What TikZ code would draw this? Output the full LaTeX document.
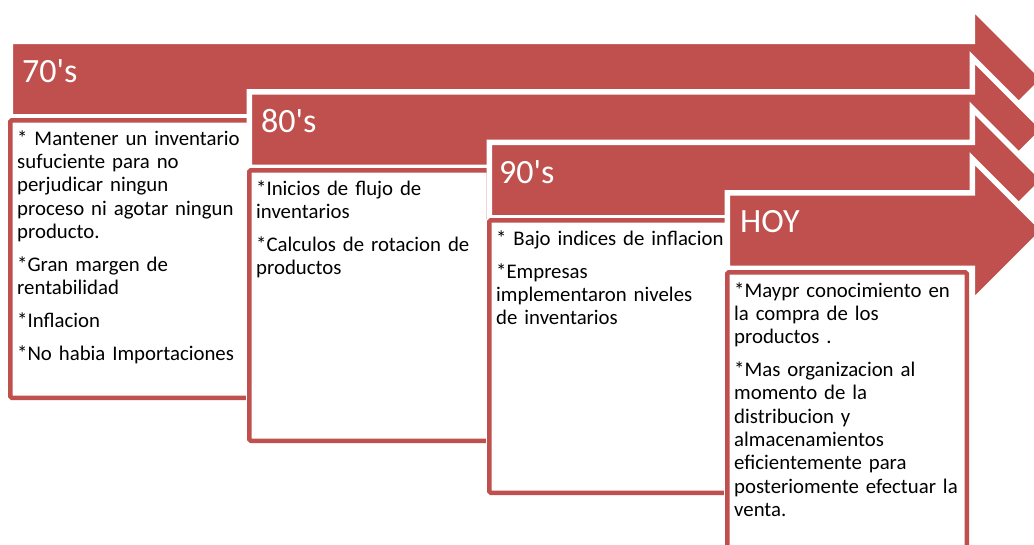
\documentclass[tikz,border=0pt]{standalone}
\usepackage{fontspec}
\setmainfont{Carlito}
\usepackage{tikz}
\usetikzlibrary{positioning}
\definecolor{rojo}{RGB}{192,80,77}
\tikzstyle{stage} = [fill=rojo, draw=white, line width=5.5pt, line join=miter]
\tikzstyle{stagelabel} = [anchor=base west, text=white, inner sep=0pt, font=\fontsize{34}{40}\selectfont]
\tikzstyle{infobox} = [rectangle, anchor=north west, rounded corners=1.5pt, draw=white, double=rojo, double distance=4.5pt, line width=1pt, fill=white, minimum width=239.5pt, inner sep=0pt, outer sep=0pt]
\tikzstyle{infotext} = [anchor=north west, text width=236pt, align=left, inner sep=0pt, font=\fontsize{20.8}{23.3}\selectfont]
% one arrow of the timeline: left end and top of the body
\newcommand{\stagearrow}[2]{%
  \draw [stage] (#1,#2) -- (972.25,#2) -- (972.25,#2-34) -- (1044,#2+37.75)
    -- (972.25,#2+109.5) -- (972.25,#2+75.5) -- (#1,#2+75.5) -- cycle;}

\begin{document}
\begin{tikzpicture}[x=1pt, y=-1pt]
  \useasboundingbox (0,0) rectangle (1034,544);

  % 70's
  \stagearrow{10.25}{41.25}
  \node (h70) [stagelabel] at (22,82) {70\textquotesingle s};
  \node (b70) [infobox, minimum height=277.5pt] at (10.25,120.25) {};
  \node (t70) [infotext, below right=8.45pt and 6.75pt of b70.north west]
    {\strut* Mantener un inventario\\
     sufuciente para no\\
     perjudicar ningun\\
     proceso ni agotar ningun\\
     producto.\\[9.5pt]
     *Gran margen de\\
     rentabilidad\\[9.5pt]
     *Inflacion\\[9.5pt]
     *No habia Importaciones};

  % 80's
  \stagearrow{249.25}{91.75}
  \node (h80) [stagelabel] at (261,132.5) {80\textquotesingle s};
  \node (b80) [infobox, minimum height=270.5pt] at (249.25,170.25) {};
  \node (t80) [infotext, below right=8.45pt and 6.75pt of b80.north west]
    {\strut*Inicios de flujo de\\
     inventarios\\[9.5pt]
     *Calculos de rotacion de\\
     productos};

  % 90's
  \stagearrow{489.25}{142.25}
  \node (h90) [stagelabel] at (499,183) {90\textquotesingle s};
  \node (b90) [infobox, minimum height=272.5pt] at (489.25,220.25) {};
  \node (t90) [infotext, below right=8.45pt and 6.75pt of b90.north west]
    {\strut* Bajo indices de inflacion\\[9.5pt]
     *Empresas\\
     implementaron niveles\\
     de inventarios};

  % HOY
  \stagearrow{727.25}{192.75}
  \node (hoy) [stagelabel] at (740,232) {HOY};
  \node (bhoy) [infobox, minimum height=290pt] at (727.25,272.25) {};
  \node (thoy) [infotext, below right=8.45pt and 6.75pt of bhoy.north west]
    {\strut*Maypr conocimiento en\\
     la compra de los\\
     productos .\\[9.5pt]
     *Mas organizacion al\\
     momento de la\\
     distribucion y\\
     almacenamientos\\
     eficientemente para\\
     posteriomente efectuar la\\
     venta.};
\end{tikzpicture}
\end{document}
